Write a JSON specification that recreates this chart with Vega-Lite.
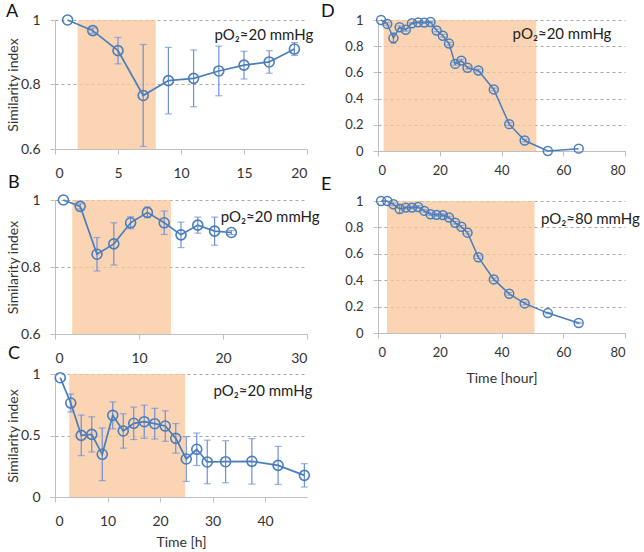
{
  "$schema": "https://vega.github.io/schema/vega-lite/v6.json",
  "padding": {"left": 6, "top": 2, "right": 0, "bottom": 2},
  "background": "white",
  "datasets": {
    "A": [
      {"t": 1, "y": 1.0, "e": 0}, {"t": 3, "y": 0.967, "e": 0.008}, {"t": 5, "y": 0.905, "e": 0.041},
      {"t": 7, "y": 0.766, "e": 0.158}, {"t": 9, "y": 0.812, "e": 0.103}, {"t": 11, "y": 0.819, "e": 0.088},
      {"t": 13, "y": 0.842, "e": 0.077}, {"t": 15, "y": 0.86, "e": 0.043}, {"t": 17, "y": 0.87, "e": 0.035},
      {"t": 19, "y": 0.91, "e": 0.02}
    ],
    "B": [
      {"t": 1, "y": 1.0, "e": 0}, {"t": 3, "y": 0.981, "e": 0.008}, {"t": 5, "y": 0.838, "e": 0.05},
      {"t": 7, "y": 0.869, "e": 0.063}, {"t": 9, "y": 0.932, "e": 0.018}, {"t": 11, "y": 0.963, "e": 0.016},
      {"t": 13, "y": 0.932, "e": 0.035}, {"t": 15, "y": 0.896, "e": 0.038}, {"t": 17, "y": 0.925, "e": 0.024},
      {"t": 19, "y": 0.907, "e": 0.042}, {"t": 21, "y": 0.903, "e": 0.006}
    ],
    "C": [
      {"t": 1, "y": 0.97, "e": 0}, {"t": 3, "y": 0.764, "e": 0.073}, {"t": 5, "y": 0.501, "e": 0.165},
      {"t": 7, "y": 0.509, "e": 0.143}, {"t": 9, "y": 0.347, "e": 0.214}, {"t": 11, "y": 0.664, "e": 0.11},
      {"t": 13, "y": 0.537, "e": 0.14}, {"t": 15, "y": 0.599, "e": 0.132}, {"t": 17, "y": 0.612, "e": 0.135},
      {"t": 19, "y": 0.596, "e": 0.125}, {"t": 21, "y": 0.577, "e": 0.124}, {"t": 23, "y": 0.477, "e": 0.12},
      {"t": 25, "y": 0.309, "e": 0.182}, {"t": 27, "y": 0.388, "e": 0.132}, {"t": 29, "y": 0.285, "e": 0.177},
      {"t": 32.5, "y": 0.287, "e": 0.171}, {"t": 37.5, "y": 0.29, "e": 0.185}, {"t": 42.5, "y": 0.257, "e": 0.155},
      {"t": 47.5, "y": 0.176, "e": 0.095}
    ],
    "D": [
      {"t": 1, "y": 1.0, "e": 0}, {"t": 3, "y": 0.97, "e": 0.01}, {"t": 5, "y": 0.862, "e": 0.04},
      {"t": 7, "y": 0.945, "e": 0.01}, {"t": 9, "y": 0.925, "e": 0.01}, {"t": 11, "y": 0.975, "e": 0.005},
      {"t": 13, "y": 0.982, "e": 0.005}, {"t": 15, "y": 0.98, "e": 0.005}, {"t": 17, "y": 0.985, "e": 0.005},
      {"t": 19, "y": 0.92, "e": 0.01}, {"t": 21, "y": 0.88, "e": 0.01}, {"t": 23, "y": 0.82, "e": 0.01},
      {"t": 25, "y": 0.665, "e": 0.01}, {"t": 27, "y": 0.69, "e": 0.01}, {"t": 29, "y": 0.635, "e": 0.01},
      {"t": 32.5, "y": 0.615, "e": 0.01}, {"t": 37.5, "y": 0.47, "e": 0.01}, {"t": 42.5, "y": 0.205, "e": 0.01},
      {"t": 47.5, "y": 0.08, "e": 0.01}, {"t": 55, "y": 0.0, "e": 0}, {"t": 65, "y": 0.018, "e": 0}
    ],
    "E": [
      {"t": 1, "y": 1.0, "e": 0}, {"t": 3, "y": 1.0, "e": 0}, {"t": 5, "y": 0.975, "e": 0.01},
      {"t": 7, "y": 0.94, "e": 0.035}, {"t": 9, "y": 0.95, "e": 0.01}, {"t": 11, "y": 0.95, "e": 0.01},
      {"t": 13, "y": 0.955, "e": 0.01}, {"t": 15, "y": 0.925, "e": 0.01}, {"t": 17, "y": 0.9, "e": 0.01},
      {"t": 19, "y": 0.895, "e": 0.01}, {"t": 21, "y": 0.893, "e": 0.01}, {"t": 23, "y": 0.875, "e": 0.01},
      {"t": 25, "y": 0.835, "e": 0.01}, {"t": 27, "y": 0.805, "e": 0.01}, {"t": 29, "y": 0.76, "e": 0.01},
      {"t": 32.5, "y": 0.574, "e": 0.01}, {"t": 37.5, "y": 0.406, "e": 0.01}, {"t": 42.5, "y": 0.297, "e": 0.01},
      {"t": 47.5, "y": 0.224, "e": 0.01}, {"t": 55, "y": 0.151, "e": 0.005}, {"t": 65, "y": 0.076, "e": 0.005}
    ],
    "shadeA": [{"x1": 1.8, "x2": 8.0, "y1": 0.6, "y2": 1.0}],
    "shadeB": [{"x1": 2.05, "x2": 13.8, "y1": 0.6, "y2": 1.0}],
    "shadeC": [{"x1": 2.7, "x2": 24.8, "y1": 0.0, "y2": 1.0}],
    "shadeD": [{"x1": 1.8, "x2": 51.3, "y1": 0.0, "y2": 1.0}],
    "shadeE": [{"x1": 2.9, "x2": 50.7, "y1": 0.0, "y2": 1.0}],
    "label20": [{"label": "pO₂≈20 mmHg"}],
    "label80": [{"label": "pO₂≈80 mmHg"}]
  },
  "spacing": 1,
  "hconcat": [
    {
      "bounds": "flush",
      "spacing": 51,
      "vconcat": [
        {
          "width": 252, "height": 129,
          "title": {"text": "A", "dx": -49, "dy": 13},
          "layer": [
            {"data": {"name": "shadeA"}, "mark": {"type": "rect", "color": "#f9c79a", "opacity": 0.75},
             "encoding": {
               "x": {"field": "x1", "type": "quantitative", "title": null, "scale": {"domain": [0, 20], "nice": false}, "axis": {"values": [0, 5, 10, 15, 20], "tickCount": 10}},
               "x2": {"field": "x2"},
               "y": {"field": "y1", "type": "quantitative", "title": "Similarity index", "scale": {"domain": [0.6, 1], "nice": false}, "axis": {"values": [0.6, 0.8, 1], "format": "~g", "tickCount": 10}},
               "y2": {"field": "y2"}}},
            {"data": {"name": "A"}, "transform": [{"filter": "datum.e > 0"}],
             "mark": {"type": "errorbar", "color": "#6d8fd8", "thickness": 1.2, "ticks": {"size": 7}},
             "encoding": {"x": {"field": "t", "type": "quantitative", "title": null}, "y": {"field": "y", "type": "quantitative", "title": "Similarity index"}, "yError": {"field": "e"}}},
            {"data": {"name": "A"}, "mark": {"type": "line", "color": "#4a7ebb", "strokeWidth": 1.7, "point": {"filled": false, "size": 100, "strokeWidth": 1.6, "color": "#4a7ebb"}},
             "encoding": {"x": {"field": "t", "type": "quantitative", "title": null}, "y": {"field": "y", "type": "quantitative", "title": "Similarity index"}}},
            {"data": {"name": "label20"}, "mark": {"type": "text", "align": "right", "baseline": "middle", "font": "Lato", "fontSize": 15, "color": "#222"},
             "encoding": {"text": {"field": "label"}, "x": {"datum": 20.5}, "y": {"datum": 0.954}}}
          ]
        },
        {
          "bounds": "flush",
          "spacing": 40,
          "vconcat": [
            {
              "width": 252, "height": 134,
              "title": {"text": "B", "dx": -47, "dy": 4},
              "layer": [
                {"data": {"name": "shadeB"}, "mark": {"type": "rect", "color": "#f9c79a", "opacity": 0.75},
                 "encoding": {
                   "x": {"field": "x1", "type": "quantitative", "title": null, "scale": {"domain": [0, 30], "nice": false}, "axis": {"values": [0, 10, 20, 30], "tickCount": 10}},
                   "x2": {"field": "x2"},
                   "y": {"field": "y1", "type": "quantitative", "title": "Similarity index", "scale": {"domain": [0.6, 1], "nice": false}, "axis": {"values": [0.6, 0.8, 1], "format": "~g", "tickCount": 10}},
                   "y2": {"field": "y2"}}},
                {"data": {"name": "B"}, "transform": [{"filter": "datum.e > 0"}],
                 "mark": {"type": "errorbar", "color": "#6d8fd8", "thickness": 1.2, "ticks": {"size": 7}},
                 "encoding": {"x": {"field": "t", "type": "quantitative", "title": null}, "y": {"field": "y", "type": "quantitative", "title": "Similarity index"}, "yError": {"field": "e"}}},
                {"data": {"name": "B"}, "mark": {"type": "line", "color": "#4a7ebb", "strokeWidth": 1.7, "point": {"filled": false, "size": 100, "strokeWidth": 1.6, "color": "#4a7ebb"}},
                 "encoding": {"x": {"field": "t", "type": "quantitative", "title": null}, "y": {"field": "y", "type": "quantitative", "title": "Similarity index"}}},
                {"data": {"name": "label20"}, "mark": {"type": "text", "align": "right", "baseline": "middle", "font": "Lato", "fontSize": 15, "color": "#222"},
                 "encoding": {"text": {"field": "label"}, "x": {"datum": 31.5}, "y": {"datum": 0.95}}}
              ]
            },
            {
              "width": 252, "height": 123,
              "title": {"text": "C", "dx": -47, "dy": 0},
              "layer": [
                {"data": {"name": "shadeC"}, "mark": {"type": "rect", "color": "#f9c79a", "opacity": 0.75},
                 "encoding": {
                   "x": {"field": "x1", "type": "quantitative", "title": "Time [h]", "scale": {"domain": [0, 48], "nice": false}, "axis": {"values": [0, 10, 20, 30, 40], "tickCount": 10, "titlePadding": 7}},
                   "x2": {"field": "x2"},
                   "y": {"field": "y1", "type": "quantitative", "title": "Similarity index", "scale": {"domain": [0, 1], "nice": false}, "axis": {"values": [0, 0.5, 1], "format": "~g", "tickCount": 10}},
                   "y2": {"field": "y2"}}},
                {"data": {"name": "C"}, "transform": [{"filter": "datum.e > 0"}],
                 "mark": {"type": "errorbar", "color": "#6d8fd8", "thickness": 1.2, "ticks": {"size": 7}},
                 "encoding": {"x": {"field": "t", "type": "quantitative", "title": "Time [h]"}, "y": {"field": "y", "type": "quantitative", "title": "Similarity index"}, "yError": {"field": "e"}}},
                {"data": {"name": "C"}, "mark": {"type": "line", "color": "#4a7ebb", "strokeWidth": 1.7, "point": {"filled": false, "size": 100, "strokeWidth": 1.6, "color": "#4a7ebb"}},
                 "encoding": {"x": {"field": "t", "type": "quantitative", "title": "Time [h]"}, "y": {"field": "y", "type": "quantitative", "title": "Similarity index"}}},
                {"data": {"name": "label20"}, "mark": {"type": "text", "align": "right", "baseline": "middle", "font": "Lato", "fontSize": 15, "color": "#222"},
                 "encoding": {"text": {"field": "label"}, "x": {"datum": 49}, "y": {"datum": 0.864}}}
              ]
            }
          ]
        }
      ]
    },
    {
      "bounds": "flush",
      "spacing": 50,
      "vconcat": [
        {
          "width": 247, "height": 131,
          "title": {"text": "D", "dx": -57, "dy": 12},
          "layer": [
            {"data": {"name": "shadeD"}, "mark": {"type": "rect", "color": "#f9c79a", "opacity": 0.75},
             "encoding": {
               "x": {"field": "x1", "type": "quantitative", "title": null, "scale": {"domain": [0, 80], "nice": false}, "axis": {"values": [0, 20, 40, 60, 80], "tickCount": 10, "labelFontSize": 13, "labelPadding": 8}},
               "x2": {"field": "x2"},
               "y": {"field": "y1", "type": "quantitative", "title": null, "scale": {"domain": [0, 1], "nice": false}, "axis": {"values": [0, 0.2, 0.4, 0.6, 0.8, 1], "tickCount": 10, "format": "~g", "labelFontSize": 13}},
               "y2": {"field": "y2"}}},
            {"data": {"name": "D"}, "transform": [{"filter": "datum.e > 0"}],
             "mark": {"type": "errorbar", "color": "#6d8fd8", "thickness": 1.2, "ticks": {"size": 6}},
             "encoding": {"x": {"field": "t", "type": "quantitative", "title": null}, "y": {"field": "y", "type": "quantitative", "title": null}, "yError": {"field": "e"}}},
            {"data": {"name": "D"}, "mark": {"type": "line", "color": "#4a7ebb", "strokeWidth": 1.5, "point": {"filled": false, "size": 80, "strokeWidth": 1.5, "color": "#4a7ebb"}},
             "encoding": {"x": {"field": "t", "type": "quantitative", "title": null}, "y": {"field": "y", "type": "quantitative", "title": null}}},
            {"data": {"name": "label20"}, "mark": {"type": "text", "align": "right", "baseline": "middle", "font": "Lato", "fontSize": 15, "color": "#222"},
             "encoding": {"text": {"field": "label"}, "x": {"datum": 75.6}, "y": {"datum": 0.895}}}
          ]
        },
        {
          "width": 247, "height": 132,
          "title": {"text": "E", "dx": -57, "dy": 4},
          "layer": [
            {"data": {"name": "shadeE"}, "mark": {"type": "rect", "color": "#f9c79a", "opacity": 0.75},
             "encoding": {
               "x": {"field": "x1", "type": "quantitative", "title": "Time [hour]", "scale": {"domain": [0, 80], "nice": false}, "axis": {"values": [0, 20, 40, 60, 80], "tickCount": 10, "labelFontSize": 13, "labelPadding": 8, "titlePadding": 12}},
               "x2": {"field": "x2"},
               "y": {"field": "y1", "type": "quantitative", "title": null, "scale": {"domain": [0, 1], "nice": false}, "axis": {"values": [0, 0.2, 0.4, 0.6, 0.8, 1], "tickCount": 10, "format": "~g", "labelFontSize": 13}},
               "y2": {"field": "y2"}}},
            {"data": {"name": "E"}, "transform": [{"filter": "datum.e > 0"}],
             "mark": {"type": "errorbar", "color": "#6d8fd8", "thickness": 1.2, "ticks": {"size": 6}},
             "encoding": {"x": {"field": "t", "type": "quantitative", "title": "Time [hour]"}, "y": {"field": "y", "type": "quantitative", "title": null}, "yError": {"field": "e"}}},
            {"data": {"name": "E"}, "mark": {"type": "line", "color": "#4a7ebb", "strokeWidth": 1.5, "point": {"filled": false, "size": 80, "strokeWidth": 1.5, "color": "#4a7ebb"}},
             "encoding": {"x": {"field": "t", "type": "quantitative", "title": "Time [hour]"}, "y": {"field": "y", "type": "quantitative", "title": null}}},
            {"data": {"name": "label80"}, "mark": {"type": "text", "align": "right", "baseline": "middle", "font": "Lato", "fontSize": 15, "color": "#222"},
             "encoding": {"text": {"field": "label"}, "x": {"datum": 84.8}, "y": {"datum": 0.864}}}
          ]
        }
      ]
    }
  ],
  "config": {
    "view": {"stroke": null},
    "font": "Lato",
    "title": {"anchor": "start", "frame": "group", "fontSize": 18, "fontWeight": "normal", "font": "Lato", "color": "#111", "baseline": "alphabetic", "offset": 0},
    "axis": {
      "domainColor": "#bfbfbf", "tickColor": "#bfbfbf", "tickSize": 5,
      "gridColor": "#a8a8a8", "gridDash": [3, 3], "gridWidth": 1,
      "labelFont": "Lato", "labelFontSize": 14, "labelColor": "#333", "labelPadding": 10,
      "titleFont": "Lato", "titleFontSize": 14, "titleFontWeight": "normal", "titleColor": "#333", "titlePadding": 0
    },
    "axisX": {"grid": false, "labelPadding": 12},
    "axisY": {"grid": true, "labelOverlap": false}
  }
}
